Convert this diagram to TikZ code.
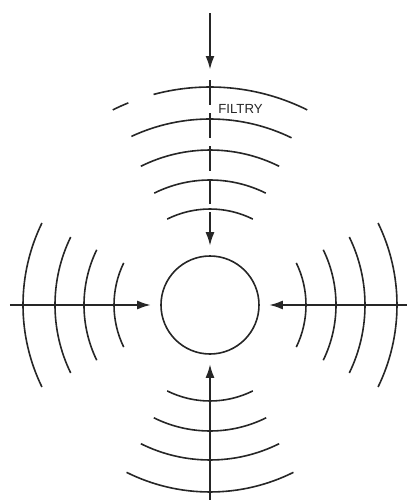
\documentclass[tikz,border=0pt]{standalone}
\usepackage{fontspec}
\setsansfont{Liberation Sans}
\usetikzlibrary{arrows.meta}
\tikzset{
	wave/.style={line width=0.8pt, black!85},
	ray/.style={line width=1.2pt, black!85, -{Latex[length=7pt,width=4.5pt]}},
}
\begin{document}
\begin{tikzpicture}[x=0.5pt, y=0.5pt]
	\useasboundingbox (0,0) rectangle (407,500);
	
	% Kula w srodku
	\node[draw, circle, line width=0.8pt, black!85, minimum size=49pt, inner sep=0pt] (core) at (210,195) {};
	
	% Fale dookola kuli
	\begin{scope}[shift={(210,195)}]
		% gora
		\draw[wave] (63.5:96) arc (63.5:116.5:96);
		\draw[wave] (63.5:125) arc (63.5:116.5:125);
		\draw[wave] (63.5:155) arc (63.5:116.5:155);
		\draw[wave] (64:186) arc (64:115:186);
		\draw[wave] (63.5:218) arc (63.5:105:218);
		\draw[wave] (112:218) arc (112:116.5:218);
		% lewo
		\draw[wave] (154:96) arc (154:206:96);
		\draw[wave] (154:126) arc (154:206:126);
		\draw[wave] (154:155) arc (154:206:155);
		\draw[wave] (154:187) arc (154:206:187);
		% prawo
		\draw[wave] (-26:96) arc (-26:26:96);
		\draw[wave] (-26:126) arc (-26:26:126);
		\draw[wave] (-26:155) arc (-26:26:155);
		\draw[wave] (-26:187) arc (-26:26:187);
		% dol
		\draw[wave] (243.5:96) arc (243.5:296.5:96);
		\draw[wave] (243.5:126) arc (243.5:296.5:126);
		\draw[wave] (243.5:155) arc (243.5:296.5:155);
		\draw[wave] (243.5:187) arc (243.5:296.5:187);
	\end{scope}
	
	% Strzalki
	\coordinate (topA) at (210,487);
	\coordinate (topB) at (210,430);
	\coordinate (filt) at (210,420);
	\coordinate (west) at (10,195);
	\coordinate (east) at (407,195);
	\coordinate (south) at (210,0);
	
	\draw[ray] (topA) -- (topB);
	\draw[ray, dash pattern=on 12.5pt off 4pt, shorten >=4.5pt] (filt) -- (core);
	\draw[ray, shorten >=4.5pt] (west) -- (core);
	\draw[ray, shorten >=4.5pt] (east) -- (core);
	\draw[ray, shorten >=4.5pt] (south) -- (core);
	
	\node[anchor=base west, inner sep=0pt, font=\sffamily\fontsize{6.6}{8}\selectfont, black!85] (filtry) at (218,387) {FILTRY};
\end{tikzpicture}
\end{document}
